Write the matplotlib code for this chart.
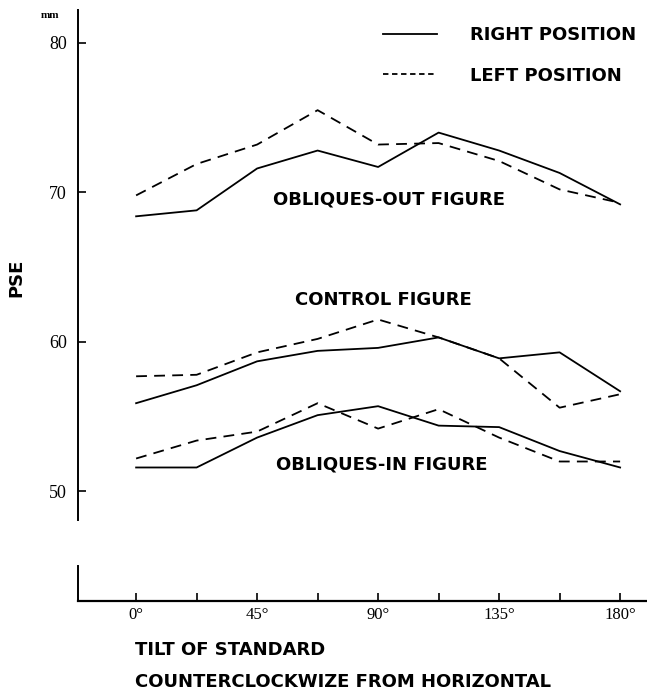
import matplotlib.pyplot as plt

# tilt angles (deg)
tilt = [0, 22.5, 45, 67.5, 90, 112.5, 135, 157.5, 180]

# PSE in mm
out_right = [68.4, 68.8, 71.6, 72.8, 71.7, 74.0, 72.8, 71.3, 69.2]
out_left = [69.8, 71.9, 73.2, 75.5, 73.2, 73.3, 72.1, 70.2, 69.3]
ctrl_right = [55.9, 57.1, 58.7, 59.4, 59.6, 60.3, 58.9, 59.3, 56.7]
ctrl_left = [57.7, 57.8, 59.3, 60.2, 61.5, 60.3, 58.9, 55.6, 56.5]
in_right = [51.6, 51.6, 53.6, 55.1, 55.7, 54.4, 54.3, 52.7, 51.6]
in_left = [52.2, 53.4, 54.0, 55.9, 54.2, 55.5, 53.6, 52.0, 52.0]

yticks = [50, 60, 70, 80]
xlabels = ['0°', '', '45°', '', '90°', '', '135°', '', '180°']

sans = 'DejaVu Sans'
serif = 'Liberation Serif'
lab = dict(fontfamily=sans, fontsize=13, fontweight='bold')

fig = plt.figure(figsize=(6.47, 6.9), dpi=100)
ax = fig.add_axes([0.1206, 0.129, 0.8794, 0.8565])

ax.plot(tilt, out_right, 'k-', lw=1.3)
ax.plot(tilt, out_left, 'k', ls=(0, (6, 4)), lw=1.3)
ax.plot(tilt, ctrl_right, 'k-', lw=1.3)
ax.plot(tilt, ctrl_left, 'k', ls=(0, (6, 4)), lw=1.3)
ax.plot(tilt, in_right, 'k-', lw=1.3)
ax.plot(tilt, in_left, 'k', ls=(0, (6, 4)), lw=1.3)

ax.set_xlim(-21.6, 190)
ax.set_ylim(42.67, 82.2)

for s in ['top', 'right']:
    ax.spines[s].set_visible(False)
ax.spines['left'].set_bounds(48.1, 82.2)
ax.spines['left'].set_linewidth(1.4)
ax.spines['bottom'].set_linewidth(1.6)
# short stub of the broken y axis
ax.plot([-21.6, -21.6], [42.67, 45.0], color='k', lw=1.4, clip_on=False)

ax.set_yticks(yticks)
ax.set_yticklabels([str(v) for v in yticks], fontfamily=serif, fontsize=13)
ax.tick_params(axis='y', direction='in', length=6, width=1.2, pad=8)
ax.set_xticks(tilt)
ax.set_xticklabels(xlabels, fontfamily=serif, fontsize=12)
ax.tick_params(axis='x', direction='in', length=6, width=1.2, pad=4)

ax.text(-32, 81.8, 'mm', fontfamily=serif, fontsize=8, fontweight='bold',
        ha='center', va='center')
ax.text(-44.5, 64.3, 'PSE', rotation=90, ha='center', va='center', **lab)

# legend drawn by hand like the original
ax.plot([92, 112], [80.6, 80.6], 'k-', lw=1.3)
ax.plot([92, 112], [77.9, 77.9], 'k', ls=(0, (3, 2)), lw=1.3)
ax.text(124, 80.5, 'RIGHT POSITION', va='center', **lab)
ax.text(124, 77.8, 'LEFT POSITION', va='center', **lab)

ax.text(94, 69.5, 'OBLIQUES-OUT FIGURE', ha='center', va='center', **lab)
ax.text(92, 62.8, 'CONTROL FIGURE', ha='center', va='center', **lab)
ax.text(91.5, 51.8, 'OBLIQUES-IN FIGURE', ha='center', va='center', **lab)

fig.text(0.209, 0.058, 'TILT OF STANDARD', ha='left', va='center', **lab)
fig.text(0.209, 0.012, 'COUNTERCLOCKWIZE FROM HORIZONTAL', ha='left',
         va='center', **lab)

fig.savefig('out.png', dpi=100)
